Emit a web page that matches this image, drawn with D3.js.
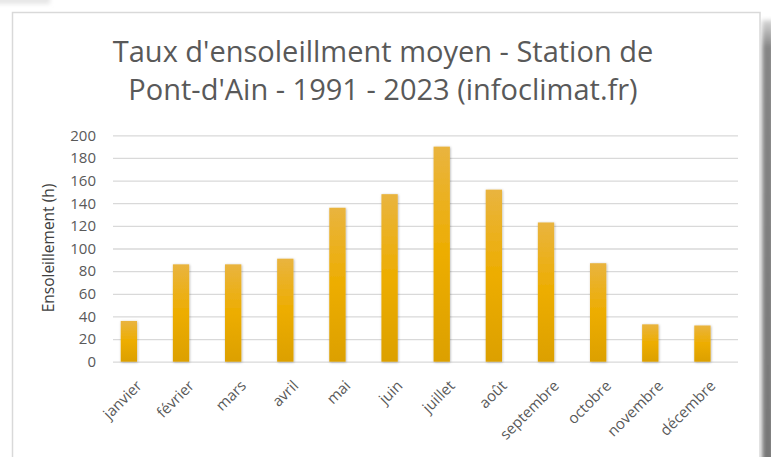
<!DOCTYPE html>
<html>
<head>
<meta charset="utf-8">
<script src="https://cdn.jsdelivr.net/npm/d3@7/dist/d3.min.js"></script>
<style>
  html, body { margin: 0; padding: 0; background: #ffffff; }
  svg { display: block; }
  text { font-family: "Open Sans", Lato, sans-serif; }
</style>
</head>
<body>
<svg id="chart" width="771" height="457"></svg>
<script>
// Monthly mean sunshine hours, Pont-d'Ain station
const months = ["janvier", "février", "mars", "avril", "mai", "juin",
                "juillet", "août", "septembre", "octobre", "novembre", "décembre"];
const sunshineHours = [36, 86, 86, 91, 136, 148, 190, 152, 123, 87, 33, 32];
const yTicks = [0, 20, 40, 60, 80, 100, 120, 140, 160, 180, 200];
const titleLines = ["Taux d'ensoleillment moyen - Station de",
                    "Pont-d'Ain  - 1991 - 2023 (infoclimat.fr)"];
const yAxisTitle = "Ensoleillement (h)";

const W = 771, H = 457;
const svg = d3.select("#chart");
const defs = svg.append("defs");

// bar fill: lighter amber at the top, deeper at the base
const grad = defs.append("linearGradient")
  .attr("id", "barFill").attr("x1", 0).attr("y1", 0).attr("x2", 0).attr("y2", 1);
grad.append("stop").attr("offset", "0%").attr("stop-color", "#e9b43f");
grad.append("stop").attr("offset", "50%").attr("stop-color", "#edad00");
grad.append("stop").attr("offset", "100%").attr("stop-color", "#dca000");

const shadow = defs.append("filter").attr("id", "barShadow")
  .attr("x", "-30%").attr("y", "-10%").attr("width", "160%").attr("height", "120%");
shadow.append("feDropShadow").attr("dx", 0.6).attr("dy", 0.6)
  .attr("stdDeviation", 1).attr("flood-color", "#000").attr("flood-opacity", 0.3);

const soft = defs.append("filter").attr("id", "soft")
  .attr("x", "-50%").attr("y", "-50%").attr("width", "200%").attr("height", "200%");
soft.append("feGaussianBlur").attr("stdDeviation", 2);

const sideShade = defs.append("linearGradient")
  .attr("id", "sideShade").attr("x1", 0).attr("y1", 0).attr("x2", 0).attr("y2", 1);
sideShade.append("stop").attr("offset", "0%").attr("stop-color", "#d8d8d8");
sideShade.append("stop").attr("offset", "6%").attr("stop-color", "#858585");
sideShade.append("stop").attr("offset", "100%").attr("stop-color", "#777777");

// page background, card and its shadow
svg.append("rect").attr("width", W).attr("height", H).attr("fill", "#ffffff");
svg.append("rect").attr("x", -10).attr("y", -6).attr("width", 60).attr("height", 10)
  .attr("fill", "#e6e6e6").attr("filter", "url(#soft)");
svg.append("rect").attr("x", 762).attr("y", 20).attr("width", 12).attr("height", H)
  .attr("fill", "url(#sideShade)").attr("filter", "url(#soft)");
svg.append("rect").attr("x", 12.5).attr("y", 12.5).attr("width", 747.5).attr("height", H)
  .attr("fill", "#ffffff").attr("stroke", "#d9d9d9").attr("stroke-width", 1.5);

// title
svg.append("g").selectAll("text").data(titleLines).join("text")
  .attr("x", 383).attr("y", (d, i) => 62 + i * 38)
  .attr("text-anchor", "middle")
  .attr("font-size", 29)
  .attr("fill", "#595959")
  .text(d => d);

// scales
const plotLeft = 113, plotRight = 738, plotTop = 135.3, plotBottom = 361.7;
const x = d3.scaleBand().domain(months)
  .range([plotLeft, plotRight]).paddingInner(0.687).paddingOuter(0.337).align(0.22);
const y = d3.scaleLinear().domain([0, 200]).range([plotBottom, plotTop]);

// horizontal gridlines + value labels
const yAxis = d3.axisLeft(y).tickValues(yTicks).tickSize(-(plotRight - plotLeft)).tickPadding(17);
const gy = svg.append("g").attr("transform", `translate(${plotLeft},0)`).call(yAxis);
gy.select(".domain").remove();
gy.selectAll(".tick line").attr("stroke", "#d9d9d9").attr("stroke-width", 1.3);
gy.selectAll(".tick text").attr("fill", "#595959").attr("font-size", 15)
  .attr("font-family", "'Open Sans', sans-serif");

// bars
svg.append("g").selectAll("rect").data(sunshineHours).join("rect")
  .attr("x", (d, i) => x(months[i]))
  .attr("width", x.bandwidth())
  .attr("y", d => y(d))
  .attr("height", d => y(0) - y(d))
  .attr("fill", "url(#barFill)")
  .attr("filter", "url(#barShadow)");

// category labels, slanted
const xAxis = d3.axisBottom(x).tickSize(0).tickPadding(0);
const gx = svg.append("g").attr("transform", `translate(0,${plotBottom})`).call(xAxis);
gx.select(".domain").remove();
gx.selectAll(".tick text")
  .attr("fill", "#595959").attr("font-size", 15)
  .attr("font-family", "'Open Sans', sans-serif")
  .attr("text-anchor", "end")
  .attr("dy", 0)
  .attr("transform", "translate(14,25) rotate(-45)");

// y-axis title
svg.append("text")
  .attr("transform", "translate(54,248) rotate(-90)")
  .attr("text-anchor", "middle")
  .attr("font-size", 15.5)
  .attr("fill", "#404040")
  .text(yAxisTitle);
</script>
</body>
</html>
